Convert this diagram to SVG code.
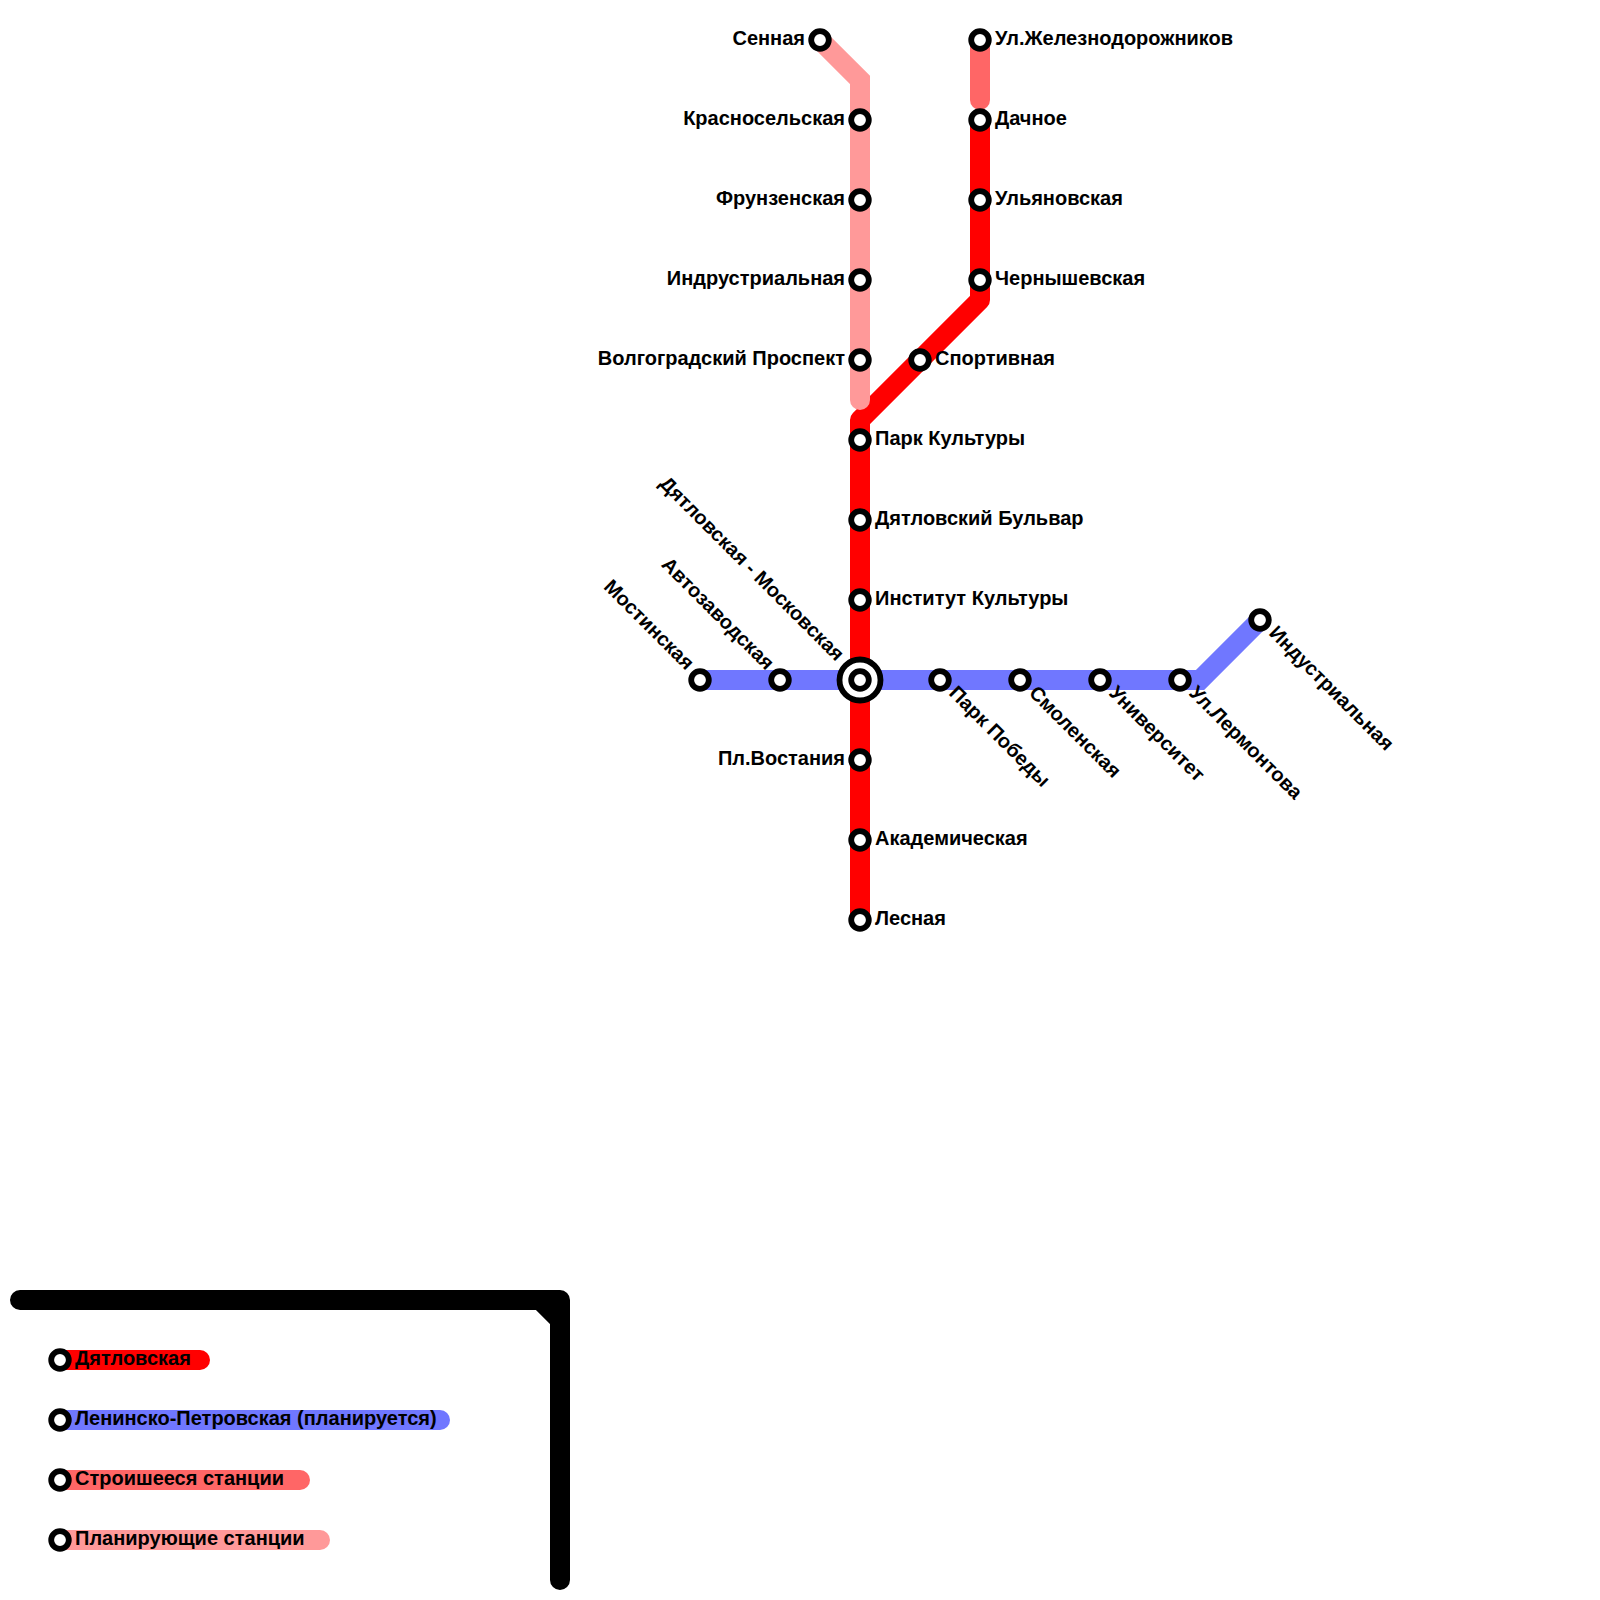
<svg xmlns="http://www.w3.org/2000/svg" width="1600" height="1600" viewBox="0 0 1600 1600">
<style>
.l{fill:none;stroke-width:20;stroke-linecap:round;stroke-linejoin:round}
.m{stroke-linejoin:miter}
.r{stroke:#f00}.b{stroke:#7077ff}.c{stroke:#f66}.p{stroke:#f99}.k{stroke:#000}
.s{fill:#fff;stroke:#000;stroke-width:5.8}
text{font-family:"Liberation Sans",Arial,sans-serif;font-weight:bold;font-size:20px;fill:#000}
.e{text-anchor:end}
</style>
<rect width="1600" height="1600" fill="#fff"/>
<g id="connectors">
<path class="l r" d="M980,120V300L860,420V920"/>
<path class="l p m" d="M820,40L860,80V400"/>
<path class="l c" d="M980,40V100"/>
<path class="l b m" d="M700,680H1200L1260,620"/>
<path class="l k" d="M20,1300H540L560,1320V1580"/>
<path class="l k" d="M500,1300H560V1400"/>
<path class="l r" d="M60,1360H200"/>
<path class="l b" d="M60,1420H440"/>
<path class="l c" d="M60,1480H300"/>
<path class="l p" d="M60,1540H320"/>
</g>
<g id="n1"><circle class="s" cx="820" cy="40" r="8.8"/><text class="e" x="805" y="45">Сенная</text></g>
<g id="n2"><circle class="s" cx="860" cy="120" r="8.8"/><text class="e" x="845" y="125">Красносельская</text></g>
<g id="n3"><circle class="s" cx="860" cy="200" r="8.8"/><text class="e" x="845" y="205">Фрунзенская</text></g>
<g id="n4"><circle class="s" cx="860" cy="280" r="8.8"/><text class="e" x="845" y="285">Индрустриальная</text></g>
<g id="n5"><circle class="s" cx="860" cy="360" r="8.8"/><text class="e" x="845" y="365">Волгоградский Проспект</text></g>
<g id="n6"><circle class="s" cx="980" cy="40" r="8.8"/><text x="995" y="45">Ул.Железнодорожников</text></g>
<g id="n7"><circle class="s" cx="980" cy="120" r="8.8"/><text x="995" y="125">Дачное</text></g>
<g id="n8"><circle class="s" cx="980" cy="200" r="8.8"/><text x="995" y="205">Ульяновская</text></g>
<g id="n9"><circle class="s" cx="980" cy="280" r="8.8"/><text x="995" y="285">Чернышевская</text></g>
<g id="n10"><circle class="s" cx="920" cy="360" r="8.8"/><text x="935" y="365">Спортивная</text></g>
<g id="n11"><circle class="s" cx="860" cy="440" r="8.8"/><text x="875" y="445">Парк Культуры</text></g>
<g id="n12"><circle class="s" cx="860" cy="520" r="8.8"/><text x="875" y="525">Дятловский Бульвар</text></g>
<g id="n13"><circle class="s" cx="860" cy="600" r="8.8"/><text x="875" y="605">Институт Культуры</text></g>
<g id="n14"><circle class="s" cx="860" cy="680" r="20.5"/><circle class="s" cx="860" cy="680" r="8.8"/><text class="e" transform="translate(836,662) rotate(45)">Дятловская - Московская</text></g>
<g id="n15"><circle class="s" cx="860" cy="760" r="8.8"/><text class="e" x="845" y="765">Пл.Востания</text></g>
<g id="n16"><circle class="s" cx="860" cy="840" r="8.8"/><text x="875" y="845">Академическая</text></g>
<g id="n17"><circle class="s" cx="860" cy="920" r="8.8"/><text x="875" y="925">Лесная</text></g>
<g id="n18"><circle class="s" cx="700" cy="680" r="8.8"/><text class="e" transform="translate(686,671) rotate(45)">Мостинская</text></g>
<g id="n19"><circle class="s" cx="780" cy="680" r="8.8"/><text class="e" transform="translate(766,671) rotate(45)">Автозаводская</text></g>
<g id="n20"><circle class="s" cx="940" cy="680" r="8.8"/><text transform="translate(948,694) rotate(45)">Парк Победы</text></g>
<g id="n21"><circle class="s" cx="1020" cy="680" r="8.8"/><text transform="translate(1028,694) rotate(45)">Смоленская</text></g>
<g id="n22"><circle class="s" cx="1100" cy="680" r="8.8"/><text transform="translate(1108,694) rotate(45)">Университет</text></g>
<g id="n23"><circle class="s" cx="1180" cy="680" r="8.8"/><text transform="translate(1188,694) rotate(45)">Ул.Лермонтова</text></g>
<g id="n24"><circle class="s" cx="1260" cy="620" r="8.8"/><text transform="translate(1268,634) rotate(45)">Индустриальная</text></g>
<g id="legend1"><circle class="s" cx="60" cy="1360" r="8.8"/><text x="75" y="1365">Дятловская</text></g>
<g id="legend2"><circle class="s" cx="60" cy="1420" r="8.8"/><text x="75" y="1425">Ленинско-Петровская (планируется)</text></g>
<g id="legend3"><circle class="s" cx="60" cy="1480" r="8.8"/><text x="75" y="1485">Строишееся станции</text></g>
<g id="legend4"><circle class="s" cx="60" cy="1540" r="8.8"/><text x="75" y="1545">Планирующие станции</text></g>
</svg>
